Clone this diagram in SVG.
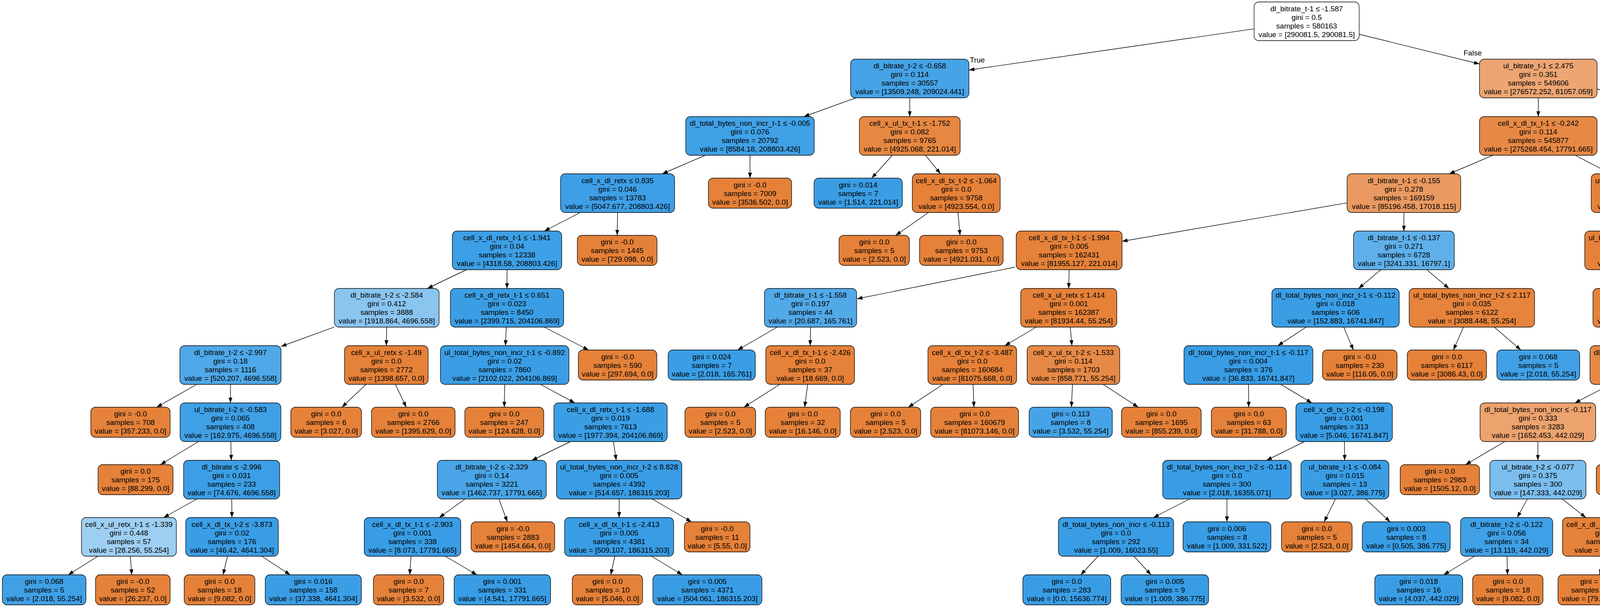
<svg xmlns="http://www.w3.org/2000/svg" width="6532" height="1554" viewBox="0 0 6532 1554">
<defs>
<style>
rect.nd{stroke:#000;stroke-width:1.3}
.o{fill:#e58139}
.b{fill:#399de5}
text{font-family:"Liberation Sans",Arial,Helvetica,sans-serif;font-size:19px;text-anchor:middle;fill:#000}
.e{stroke:#000;stroke-width:1.4;fill:none;marker-end:url(#ah)}
</style>
<marker id="ah" markerUnits="userSpaceOnUse" markerWidth="14" markerHeight="10" refX="14" refY="5" orient="auto" viewBox="0 0 14 10"><path d="M0,0 L14,5 L0,10 z" fill="#000"/></marker>
</defs>
<rect x="0" y="0" width="6532" height="1554" fill="#fff"/>
<g id="connectors">
<path class="e" d="M3210.5,73.9 L2480.5,179.2"/>
<path class="e" d="M3479.5,87.7 L3787.5,163.8"/>
<text x="2502" y="160">True</text>
<text x="3770" y="142">False</text>
<path class="e" d="M2191,250.5 L2058,298.5"/>
<path class="e" d="M2329,250.5 L2329,298.5"/>
<path class="e" d="M3938,250.5 L3938,298.5"/>
<path class="e" d="M4088.5,228.3 L4606,322.6"/>
<path class="e" d="M1805.6,397.5 L1695.4,445"/>
<path class="e" d="M1920,397.5 L1920,456"/>
<path class="e" d="M2284.4,397.5 L2231.7,456"/>
<path class="e" d="M2369.2,397.5 L2407.8,445"/>
<path class="e" d="M3821.9,397.5 L3710.1,445"/>
<path class="e" d="M4032.5,397.5 L4123.5,445"/>
<path class="e" d="M4746,397.5 L4747,456"/>
<path class="e" d="M4886,392.3 L5053.4,445"/>
<path class="e" d="M1485.5,544 L1393.5,591.5"/>
<path class="e" d="M1581,544 L1580,602.5"/>
<path class="e" d="M2377.1,544 L2293.1,602.5"/>
<path class="e" d="M2452.4,544 L2457.6,602.5"/>
<path class="e" d="M3448.5,519.4 L2872.5,617.8"/>
<path class="e" d="M3594,544 L3594,591.5"/>
<path class="e" d="M4218,544 L4218,591.5"/>
<path class="e" d="M4319.3,544 L4439.3,602.5"/>
<path class="e" d="M5210,544 L5210,602.5"/>
<path class="e" d="M5324.8,544 L5435.3,591.5"/>
<path class="e" d="M1194,690.5 L1094,738.5"/>
<path class="e" d="M1298,690.5 L1298,738.5"/>
<path class="e" d="M2598,684 L2194,765"/>
<path class="e" d="M2737,690.5 L2736,738.5"/>
<path class="e" d="M3534.9,690.5 L3478.1,738.5"/>
<path class="e" d="M3652.7,690.5 L3709.3,738.5"/>
<path class="e" d="M4218,690.5 L4218,738.5"/>
<path class="e" d="M4312.2,690.5 L4423.8,749.5"/>
<path class="e" d="M5550,690.5 L5550,738.5"/>
<path class="e" d="M5634.7,690.5 L5735.1,749.5"/>
<path class="e" d="M856,837.1 L719.5,887"/>
<path class="e" d="M990,837.5 L989,885"/>
<path class="e" d="M1296,837.5 L1294,885"/>
<path class="e" d="M1393.5,837.5 L1506.7,896"/>
<path class="e" d="M1989.6,837.5 L1888.4,896"/>
<path class="e" d="M2075,837.5 L2074,885"/>
<path class="e" d="M2652.6,837.5 L2572.4,885"/>
<path class="e" d="M2740,837.5 L2744,885"/>
<path class="e" d="M3343.7,837.5 L3271.3,885"/>
<path class="e" d="M3439.9,837.5 L3464.7,896"/>
<path class="e" d="M3746.4,837.5 L3720.8,896"/>
<path class="e" d="M3825.4,837.5 L3893.4,896"/>
<path class="e" d="M4218,837.5 L4218,885"/>
<path class="e" d="M4324,837.5 L4426,885"/>
<path class="e" d="M5550,837.5 L5550,885"/>
<path class="e" d="M5684.3,837.5 L5819.5,887.1"/>
<path class="e" d="M503.6,984 L401.2,1042.5"/>
<path class="e" d="M590,984 L590,1031.5"/>
<path class="e" d="M937,984 L875.4,1042.5"/>
<path class="e" d="M1012.3,984 L1039.9,1042.5"/>
<path class="e" d="M1292,984 L1291,1042.5"/>
<path class="e" d="M1383.5,984 L1471.5,1031.5"/>
<path class="e" d="M1996.4,984 L1904.4,1042.5"/>
<path class="e" d="M2067.6,984 L2060,1042.5"/>
<path class="e" d="M2414.1,984 L2325.3,1042.5"/>
<path class="e" d="M2491,984 L2493.4,1042.5"/>
<path class="e" d="M2745.6,984 L2742.8,1042.5"/>
<path class="e" d="M2823.9,984 L2913.9,1042.5"/>
<path class="e" d="M3196.3,984 L3196.7,1042.5"/>
<path class="e" d="M3278.7,984 L3358.3,1031.5"/>
<path class="e" d="M4123.2,984 L4031.8,1031.5"/>
<path class="e" d="M4218.3,984 L4218.7,1031.5"/>
<path class="e" d="M4521.2,984 L4508.4,1042.5"/>
<path class="e" d="M4613,984 L4691,1031.5"/>
<path class="e" d="M5509.2,984 L5469.8,1031.5"/>
<path class="e" d="M5600.6,984 L5649.4,1031.5"/>
<path class="e" d="M5948.7,984 L5949.5,1042.5"/>
<path class="e" d="M6033.7,984 L6116.3,1031.5"/>
<path class="e" d="M508,1130.5 L410.8,1189.5"/>
<path class="e" d="M591,1130.5 L592,1178.5"/>
<path class="e" d="M1460.4,1130.5 L1361.6,1178.5"/>
<path class="e" d="M1570.4,1130.5 L1577.6,1178.5"/>
<path class="e" d="M3339.7,1130.5 L3242.3,1178.5"/>
<path class="e" d="M3441.7,1130.5 L3442.3,1178.5"/>
<path class="e" d="M3852.3,1130.5 L3751.9,1189.5"/>
<path class="e" d="M3937,1130.5 L3937,1178.5"/>
<path class="e" d="M4204.8,1130.5 L4188,1189.5"/>
<path class="e" d="M4279.8,1130.5 L4351.7,1189.5"/>
<path class="e" d="M4746,1130.5 L4721,1178.5"/>
<path class="e" d="M4852.3,1130.5 L4929.7,1178.5"/>
<path class="e" d="M5369.9,1130.5 L5299.9,1189.5"/>
<path class="e" d="M5442.8,1130.5 L5459.2,1189.5"/>
<path class="e" d="M5697.6,1130.5 L5694.8,1189.5"/>
<path class="e" d="M5778.6,1130.5 L5871.8,1189.5"/>
<path class="e" d="M6202,1130.5 L6202,1178.5"/>
<path class="e" d="M6282.7,1130.5 L6378.3,1189.5"/>
<path class="e" d="M504.2,1277.5 L418.8,1325"/>
<path class="e" d="M593.3,1277.5 L593.7,1325"/>
<path class="e" d="M1190.5,1277.5 L1124.5,1325"/>
<path class="e" d="M1277.2,1277.5 L1298.8,1336"/>
<path class="e" d="M1585,1277.5 L1585,1325"/>
<path class="e" d="M1669.7,1277.5 L1770.1,1336"/>
<path class="e" d="M3045.1,1277.5 L2952.9,1325"/>
<path class="e" d="M3141,1277.5 L3141,1336"/>
<path class="e" d="M3418.7,1277.5 L3389.9,1336"/>
<path class="e" d="M3496,1277.5 L3558.8,1336"/>
<path class="e" d="M3910,1277.5 L3884,1325"/>
<path class="e" d="M3999.4,1277.5 L4059.6,1325"/>
<path class="e" d="M4637,1277.5 L4581,1325"/>
<path class="e" d="M4715.6,1277.5 L4740,1336"/>
<path class="e" d="M5008.7,1277.5 L5007.3,1325"/>
<path class="e" d="M5093.7,1277.5 L5192.9,1336"/>
<path class="e" d="M6161.8,1277.5 L6123.2,1325"/>
<path class="e" d="M6240.8,1277.5 L6286.8,1336"/>
<path class="e" d="M250.7,1424 L174.7,1471.5"/>
<path class="e" d="M333.7,1424 L337.2,1471.5"/>
<path class="e" d="M582.3,1424 L571.1,1471.5"/>
<path class="e" d="M670,1424 L742.9,1471.5"/>
<path class="e" d="M1052.3,1424 L1048.8,1471.5"/>
<path class="e" d="M1140,1424 L1220.7,1471.5"/>
<path class="e" d="M1574,1424 L1563.5,1471.5"/>
<path class="e" d="M1667.6,1424 L1746.8,1471.5"/>
<path class="e" d="M2811,1424 L2766.8,1471.5"/>
<path class="e" d="M2902.7,1424 L2946.5,1471.5"/>
<path class="e" d="M3774.8,1424 L3695.9,1471.5"/>
<path class="e" d="M3858.1,1424 L3859.1,1471.5"/>
<path class="e" d="M4108.1,1424 L4094.8,1471.5"/>
<path class="e" d="M4187.8,1424 L4250.9,1471.5"/>
<path class="e" d="M4522.6,1424 L4522.3,1471.5"/>
<path class="e" d="M4597.9,1424 L4669.8,1471.5"/>
<path class="e" d="M4996.9,1424 L4988.1,1471.5"/>
<path class="e" d="M5081.6,1424 L5154.2,1471.5"/>
<path class="e" d="M6035.9,1424 L5990.6,1471.5"/>
<path class="e" d="M6130.9,1424 L6176.8,1471.5"/>
</g>
<g id="n0" transform="translate(3345,54.5)"><rect class="nd" x="-134.5" y="-49.5" width="269" height="99" rx="12" style="fill:#ffffff"/><text y="-26">dl_bitrate_t-1 ≤ -1.587</text><text y="-4">gini = 0.5</text><text y="18">samples = 580163</text><text y="40">value = [290081.5, 290081.5]</text></g>
<g id="n1" transform="translate(2329,201)"><rect class="nd" x="-151.5" y="-49.5" width="303" height="99" rx="12" style="fill:#46a3e7"/><text y="-26">dl_bitrate_t-2 ≤ -0.658</text><text y="-4">gini = 0.114</text><text y="18">samples = 30557</text><text y="40">value = [13509.248, 209024.441]</text></g>
<g id="n2" transform="translate(3938,201)"><rect class="nd" x="-150.5" y="-49.5" width="301" height="99" rx="12" style="fill:#eda673"/><text y="-26">ul_bitrate_t-1 ≤ 2.475</text><text y="-4">gini = 0.351</text><text y="18">samples = 549606</text><text y="40">value = [276572.252, 81057.059]</text></g>
<g id="n3" transform="translate(1920,348)"><rect class="nd" x="-164.5" y="-49.5" width="329" height="99" rx="12" style="fill:#41a1e6"/><text y="-26">dl_total_bytes_non_incr_t-1 ≤ -0.005</text><text y="-4">gini = 0.076</text><text y="18">samples = 20792</text><text y="40">value = [8584.18, 208803.426]</text></g>
<g id="n4" transform="translate(2329,348)"><rect class="nd" x="-129" y="-49.5" width="258" height="99" rx="12" style="fill:#e68742"/><text y="-26">cell_x_ul_tx_t-1 ≤ -1.752</text><text y="-4">gini = 0.082</text><text y="18">samples = 9765</text><text y="40">value = [4925.068, 221.014]</text></g>
<g id="n5" transform="translate(3938,348)"><rect class="nd" x="-150.5" y="-49.5" width="301" height="99" rx="12" style="fill:#e78946"/><text y="-26">cell_x_dl_tx_t-1 ≤ -0.242</text><text y="-4">gini = 0.114</text><text y="18">samples = 545877</text><text y="40">value = [275268.454, 17791.665]</text></g>
<g id="n6" transform="translate(4746,348)"><rect class="nd" x="-140" y="-49.5" width="280" height="99" rx="12" style="fill:#3d9fe6"/><text y="-26">cell_x_dl_retx ≤ -0.632</text><text y="-4">gini = 0.04</text><text y="18">samples = 3729</text><text y="40">value = [1303.798, 63265.394]</text></g>
<g id="n7" transform="translate(1581,494.5)"><rect class="nd" x="-146" y="-49.5" width="292" height="99" rx="12" style="fill:#3e9fe6"/><text y="-26">cell_x_dl_retx ≤ 0.835</text><text y="-4">gini = 0.046</text><text y="18">samples = 13783</text><text y="40">value = [5047.677, 208803.426]</text></g>
<g id="n8" transform="translate(1920,494.5)"><rect class="nd o" x="-106.5" y="-38.5" width="213" height="77" rx="12"/><text y="-15">gini = -0.0</text><text y="7">samples = 7009</text><text y="29">value = [3536.502, 0.0]</text></g>
<g id="n9" transform="translate(2197,494.5)"><rect class="nd" x="-113" y="-38.5" width="226" height="77" rx="12" style="fill:#3b9ee5"/><text y="-15">gini = 0.014</text><text y="7">samples = 7</text><text y="29">value = [1.514, 221.014]</text></g>
<g id="n10" transform="translate(2448,494.5)"><rect class="nd o" x="-112.5" y="-49.5" width="225" height="99" rx="12"/><text y="-26">cell_x_dl_tx_t-2 ≤ -1.064</text><text y="-4">gini = 0.0</text><text y="18">samples = 9758</text><text y="40">value = [4923.554, 0.0]</text></g>
<g id="n11" transform="translate(3594,494.5)"><rect class="nd" x="-145.5" y="-49.5" width="291" height="99" rx="12" style="fill:#ea9a61"/><text y="-26">dl_bitrate_t-1 ≤ -0.155</text><text y="-4">gini = 0.278</text><text y="18">samples = 169159</text><text y="40">value = [85196.458, 17018.115]</text></g>
<g id="n12" transform="translate(4218,494.5)"><rect class="nd" x="-144.5" y="-49.5" width="289" height="99" rx="12" style="fill:#e5823a"/><text y="-26">ul_total_bytes_non_incr ≤ 4.279</text><text y="-4">gini = 0.008</text><text y="18">samples = 376718</text><text y="40">value = [190071.996, 773.551]</text></g>
<g id="n13" transform="translate(4747,494.5)"><rect class="nd o" x="-106" y="-38.5" width="212" height="77" rx="12"/><text y="-15">gini = -0.0</text><text y="7">samples = 2091</text><text y="29">value = [1055.047, 0.0]</text></g>
<g id="n14" transform="translate(5210,494.5)"><rect class="nd b" x="-165" y="-49.5" width="330" height="99" rx="12"/><text y="-26">ul_total_bytes_non_incr_t-2 ≤ -0.883</text><text y="-4">gini = 0.008</text><text y="18">samples = 1638</text><text y="40">value = [248.751, 63265.394]</text></g>
<g id="n15" transform="translate(1298,641)"><rect class="nd" x="-140" y="-49.5" width="280" height="99" rx="12" style="fill:#3d9fe6"/><text y="-26">cell_x_dl_retx_t-1 ≤ -1.941</text><text y="-4">gini = 0.04</text><text y="18">samples = 12338</text><text y="40">value = [4318.58, 208803.426]</text></g>
<g id="n16" transform="translate(1580,641)"><rect class="nd o" x="-102" y="-38.5" width="204" height="77" rx="12"/><text y="-15">gini = -0.0</text><text y="7">samples = 1445</text><text y="29">value = [729.098, 0.0]</text></g>
<g id="n17" transform="translate(2238,641)"><rect class="nd o" x="-90" y="-38.5" width="180" height="77" rx="12"/><text y="-15">gini = 0.0</text><text y="7">samples = 5</text><text y="29">value = [2.523, 0.0]</text></g>
<g id="n18" transform="translate(2461,641)"><rect class="nd o" x="-107" y="-38.5" width="214" height="77" rx="12"/><text y="-15">gini = 0.0</text><text y="7">samples = 9753</text><text y="29">value = [4921.031, 0.0]</text></g>
<g id="n19" transform="translate(2737,641)"><rect class="nd o" x="-135.5" y="-49.5" width="271" height="99" rx="12"/><text y="-26">cell_x_dl_tx_t-1 ≤ -1.994</text><text y="-4">gini = 0.005</text><text y="18">samples = 162431</text><text y="40">value = [81955.127, 221.014]</text></g>
<g id="n20" transform="translate(3594,641)"><rect class="nd" x="-129" y="-49.5" width="258" height="99" rx="12" style="fill:#5fb0ea"/><text y="-26">dl_bitrate_t-1 ≤ -0.137</text><text y="-4">gini = 0.271</text><text y="18">samples = 6728</text><text y="40">value = [3241.331, 16797.1]</text></g>
<g id="n21" transform="translate(4218,641)"><rect class="nd o" x="-161" y="-49.5" width="322" height="99" rx="12"/><text y="-26">ul_total_bytes_non_incr_t-2 ≤ 4.401</text><text y="-4">gini = 0.007</text><text y="18">samples = 376713</text><text y="40">value = [190070.482, 663.043]</text></g>
<g id="n22" transform="translate(4518,641)"><rect class="nd" x="-112.5" y="-38.5" width="225" height="77" rx="12" style="fill:#3c9ee5"/><text y="-15">gini = 0.027</text><text y="7">samples = 5</text><text y="29">value = [1.514, 110.507]</text></g>
<g id="n23" transform="translate(5210,641)"><rect class="nd o" x="-96" y="-38.5" width="192" height="77" rx="12"/><text y="-15">gini = 0.0</text><text y="7">samples = 132</text><text y="29">value = [66.603, 0.0]</text></g>
<g id="n24" transform="translate(5550,641)"><rect class="nd b" x="-134.5" y="-49.5" width="269" height="99" rx="12"/><text y="-26">cell_x_ul_tx_t-1 ≤ 1.751</text><text y="-4">gini = 0.006</text><text y="18">samples = 1506</text><text y="40">value = [182.148, 63265.394]</text></g>
<g id="n25" transform="translate(990,788)"><rect class="nd" x="-134" y="-49.5" width="268" height="99" rx="12" style="fill:#8ac5f0"/><text y="-26">dl_bitrate_t-2 ≤ -2.584</text><text y="-4">gini = 0.412</text><text y="18">samples = 3888</text><text y="40">value = [1918.864, 4696.558]</text></g>
<g id="n26" transform="translate(1298,788)"><rect class="nd" x="-145" y="-49.5" width="290" height="99" rx="12" style="fill:#3b9ee5"/><text y="-26">cell_x_dl_retx_t-1 ≤ 0.651</text><text y="-4">gini = 0.023</text><text y="18">samples = 8450</text><text y="40">value = [2399.715, 204106.869]</text></g>
<g id="n27" transform="translate(2075,788)"><rect class="nd" x="-118" y="-49.5" width="236" height="99" rx="12" style="fill:#52a9e8"/><text y="-26">dl_bitrate_t-1 ≤ -1.558</text><text y="-4">gini = 0.197</text><text y="18">samples = 44</text><text y="40">value = [20.687, 165.761]</text></g>
<g id="n28" transform="translate(2736,788)"><rect class="nd o" x="-123" y="-49.5" width="246" height="99" rx="12"/><text y="-26">cell_x_ul_retx ≤ 1.414</text><text y="-4">gini = 0.001</text><text y="18">samples = 162387</text><text y="40">value = [81934.44, 55.254]</text></g>
<g id="n29" transform="translate(3419,788)"><rect class="nd" x="-163" y="-49.5" width="326" height="99" rx="12" style="fill:#3b9ee5"/><text y="-26">dl_total_bytes_non_incr_t-1 ≤ -0.112</text><text y="-4">gini = 0.018</text><text y="18">samples = 606</text><text y="40">value = [152.883, 16741.847]</text></g>
<g id="n30" transform="translate(3768,788)"><rect class="nd" x="-160.5" y="-49.5" width="321" height="99" rx="12" style="fill:#e6833c"/><text y="-26">ul_total_bytes_non_incr_t-2 ≤ 2.117</text><text y="-4">gini = 0.035</text><text y="18">samples = 6122</text><text y="40">value = [3088.448, 55.254]</text></g>
<g id="n31" transform="translate(4218,788)"><rect class="nd o" x="-140" y="-49.5" width="280" height="99" rx="12"/><text y="-26">cell_x_dl_tx_t-1 ≤ -0.172</text><text y="-4">gini = 0.006</text><text y="18">samples = 376708</text><text y="40">value = [190068.968, 552.536]</text></g>
<g id="n32" transform="translate(4497,788)"><rect class="nd" x="-112.5" y="-38.5" width="225" height="77" rx="12" style="fill:#3c9ee5"/><text y="-15">gini = 0.027</text><text y="7">samples = 5</text><text y="29">value = [1.514, 110.507]</text></g>
<g id="n33" transform="translate(5550,788)"><rect class="nd b" x="-134.5" y="-49.5" width="269" height="99" rx="12"/><text y="-26">cell_x_dl_tx_t-1 ≤ 1.87</text><text y="-4">gini = 0.005</text><text y="18">samples = 1449</text><text y="40">value = [153.388, 63265.394]</text></g>
<g id="n34" transform="translate(5801,788)"><rect class="nd o" x="-91" y="-38.5" width="182" height="77" rx="12"/><text y="-15">gini = -0.0</text><text y="7">samples = 57</text><text y="29">value = [28.76, 0.0]</text></g>
<g id="n35" transform="translate(590,934.5)"><rect class="nd" x="-129.5" y="-49.5" width="259" height="99" rx="12" style="fill:#4fa8e8"/><text y="-26">dl_bitrate_t-2 ≤ -2.997</text><text y="-4">gini = 0.18</text><text y="18">samples = 1116</text><text y="40">value = [520.207, 4696.558]</text></g>
<g id="n36" transform="translate(989,934.5)"><rect class="nd o" x="-107" y="-49.5" width="214" height="99" rx="12"/><text y="-26">cell_x_ul_retx ≤ -1.49</text><text y="-4">gini = 0.0</text><text y="18">samples = 2772</text><text y="40">value = [1398.657, 0.0]</text></g>
<g id="n37" transform="translate(1292,934.5)"><rect class="nd" x="-164.5" y="-49.5" width="329" height="99" rx="12" style="fill:#3b9ee5"/><text y="-26">ul_total_bytes_non_incr_t-1 ≤ -0.892</text><text y="-4">gini = 0.02</text><text y="18">samples = 7860</text><text y="40">value = [2102.022, 204106.869]</text></g>
<g id="n38" transform="translate(1581,934.5)"><rect class="nd o" x="-100.5" y="-38.5" width="201" height="77" rx="12"/><text y="-15">gini = -0.0</text><text y="7">samples = 590</text><text y="29">value = [297.694, 0.0]</text></g>
<g id="n39" transform="translate(1822,934.5)"><rect class="nd" x="-111.5" y="-38.5" width="223" height="77" rx="12" style="fill:#3b9ee5"/><text y="-15">gini = 0.024</text><text y="7">samples = 7</text><text y="29">value = [2.018, 165.761]</text></g>
<g id="n40" transform="translate(2074,934.5)"><rect class="nd o" x="-113.5" y="-49.5" width="227" height="99" rx="12"/><text y="-26">cell_x_dl_tx_t-1 ≤ -2.426</text><text y="-4">gini = 0.0</text><text y="18">samples = 37</text><text y="40">value = [18.669, 0.0]</text></g>
<g id="n41" transform="translate(2489,934.5)"><rect class="nd o" x="-113.5" y="-49.5" width="227" height="99" rx="12"/><text y="-26">cell_x_dl_tx_t-2 ≤ -3.487</text><text y="-4">gini = 0.0</text><text y="18">samples = 160684</text><text y="40">value = [81075.668, 0.0]</text></g>
<g id="n42" transform="translate(2748,934.5)"><rect class="nd" x="-118.5" y="-49.5" width="237" height="99" rx="12" style="fill:#e78946"/><text y="-26">cell_x_ul_tx_t-2 ≤ -1.533</text><text y="-4">gini = 0.114</text><text y="18">samples = 1703</text><text y="40">value = [858.771, 55.254]</text></g>
<g id="n43" transform="translate(3196,934.5)"><rect class="nd b" x="-165" y="-49.5" width="330" height="99" rx="12"/><text y="-26">dl_total_bytes_non_incr_t-1 ≤ -0.117</text><text y="-4">gini = 0.004</text><text y="18">samples = 376</text><text y="40">value = [36.833, 16741.847]</text></g>
<g id="n44" transform="translate(3481,934.5)"><rect class="nd o" x="-95.5" y="-38.5" width="191" height="77" rx="12"/><text y="-15">gini = -0.0</text><text y="7">samples = 230</text><text y="29">value = [116.05, 0.0]</text></g>
<g id="n45" transform="translate(3704,934.5)"><rect class="nd o" x="-101.5" y="-38.5" width="203" height="77" rx="12"/><text y="-15">gini = 0.0</text><text y="7">samples = 6117</text><text y="29">value = [3086.43, 0.0]</text></g>
<g id="n46" transform="translate(3938,934.5)"><rect class="nd" x="-106" y="-38.5" width="212" height="77" rx="12" style="fill:#40a0e6"/><text y="-15">gini = 0.068</text><text y="7">samples = 5</text><text y="29">value = [2.018, 55.254]</text></g>
<g id="n47" transform="translate(4218,934.5)"><rect class="nd" x="-147.5" y="-49.5" width="295" height="99" rx="12" style="fill:#e78946"/><text y="-26">dl_total_bytes_non_incr ≤ -0.107</text><text y="-4">gini = 0.114</text><text y="18">samples = 13548</text><text y="40">value = [6831.822, 442.029]</text></g>
<g id="n48" transform="translate(4532,934.5)"><rect class="nd o" x="-140" y="-49.5" width="280" height="99" rx="12"/><text y="-26">cell_x_ul_retx_t-1 ≤ 0.553</text><text y="-4">gini = 0.001</text><text y="18">samples = 363160</text><text y="40">value = [183237.146, 110.507]</text></g>
<g id="n49" transform="translate(5550,934.5)"><rect class="nd" x="-123" y="-49.5" width="246" height="99" rx="12" style="fill:#66b3eb"/><text y="-26">ul_bitrate_t-1 ≤ 6.236</text><text y="-4">gini = 0.302</text><text y="18">samples = 259</text><text y="40">value = [125.637, 552.536]</text></g>
<g id="n50" transform="translate(5948,934.5)"><rect class="nd b" x="-128.5" y="-49.5" width="257" height="99" rx="12"/><text y="-26">cell_x_ul_tx ≤ -1.818</text><text y="-4">gini = 0.001</text><text y="18">samples = 1190</text><text y="40">value = [27.751, 62712.858]</text></g>
<g id="n51" transform="translate(334,1081)"><rect class="nd o" x="-101.5" y="-38.5" width="203" height="77" rx="12"/><text y="-15">gini = -0.0</text><text y="7">samples = 708</text><text y="29">value = [357.233, 0.0]</text></g>
<g id="n52" transform="translate(590,1081)"><rect class="nd" x="-129" y="-49.5" width="258" height="99" rx="12" style="fill:#40a0e6"/><text y="-26">ul_bitrate_t-2 ≤ -0.583</text><text y="-4">gini = 0.065</text><text y="18">samples = 408</text><text y="40">value = [162.975, 4696.558]</text></g>
<g id="n53" transform="translate(835,1081)"><rect class="nd o" x="-90.5" y="-38.5" width="181" height="77" rx="12"/><text y="-15">gini = 0.0</text><text y="7">samples = 6</text><text y="29">value = [3.027, 0.0]</text></g>
<g id="n54" transform="translate(1058,1081)"><rect class="nd o" x="-107" y="-38.5" width="214" height="77" rx="12"/><text y="-15">gini = 0.0</text><text y="7">samples = 2766</text><text y="29">value = [1395.629, 0.0]</text></g>
<g id="n55" transform="translate(1291,1081)"><rect class="nd o" x="-101" y="-38.5" width="202" height="77" rx="12"/><text y="-15">gini = 0.0</text><text y="7">samples = 247</text><text y="29">value = [124.628, 0.0]</text></g>
<g id="n56" transform="translate(1563,1081)"><rect class="nd" x="-145" y="-49.5" width="290" height="99" rx="12" style="fill:#3b9ee5"/><text y="-26">cell_x_dl_retx_t-1 ≤ -1.688</text><text y="-4">gini = 0.019</text><text y="18">samples = 7613</text><text y="40">value = [1977.394, 204106.869]</text></g>
<g id="n57" transform="translate(1844,1081)"><rect class="nd o" x="-90.5" y="-38.5" width="181" height="77" rx="12"/><text y="-15">gini = 0.0</text><text y="7">samples = 5</text><text y="29">value = [2.523, 0.0]</text></g>
<g id="n58" transform="translate(2055,1081)"><rect class="nd o" x="-96" y="-38.5" width="192" height="77" rx="12"/><text y="-15">gini = 0.0</text><text y="7">samples = 32</text><text y="29">value = [16.146, 0.0]</text></g>
<g id="n59" transform="translate(2267,1081)"><rect class="nd o" x="-90" y="-38.5" width="180" height="77" rx="12"/><text y="-15">gini = 0.0</text><text y="7">samples = 5</text><text y="29">value = [2.523, 0.0]</text></g>
<g id="n60" transform="translate(2495,1081)"><rect class="nd o" x="-112.5" y="-38.5" width="225" height="77" rx="12"/><text y="-15">gini = 0.0</text><text y="7">samples = 160679</text><text y="29">value = [81073.146, 0.0]</text></g>
<g id="n61" transform="translate(2741,1081)"><rect class="nd" x="-106.5" y="-38.5" width="213" height="77" rx="12" style="fill:#46a3e7"/><text y="-15">gini = 0.113</text><text y="7">samples = 8</text><text y="29">value = [3.532, 55.254]</text></g>
<g id="n62" transform="translate(2973,1081)"><rect class="nd o" x="-102" y="-38.5" width="204" height="77" rx="12"/><text y="-15">gini = 0.0</text><text y="7">samples = 1695</text><text y="29">value = [855.239, 0.0]</text></g>
<g id="n63" transform="translate(3197,1081)"><rect class="nd o" x="-96" y="-38.5" width="192" height="77" rx="12"/><text y="-15">gini = 0.0</text><text y="7">samples = 63</text><text y="29">value = [31.788, 0.0]</text></g>
<g id="n64" transform="translate(3441,1081)"><rect class="nd b" x="-123.5" y="-49.5" width="247" height="99" rx="12"/><text y="-26">cell_x_dl_tx_t-2 ≤ -0.198</text><text y="-4">gini = 0.001</text><text y="18">samples = 313</text><text y="40">value = [5.046, 16741.847]</text></g>
<g id="n65" transform="translate(3937,1081)"><rect class="nd" x="-148" y="-49.5" width="296" height="99" rx="12" style="fill:#eca36e"/><text y="-26">dl_total_bytes_non_incr ≤ -0.117</text><text y="-4">gini = 0.333</text><text y="18">samples = 3283</text><text y="40">value = [1652.453, 442.029]</text></g>
<g id="n66" transform="translate(4219,1081)"><rect class="nd o" x="-106.5" y="-49.5" width="213" height="99" rx="12"/><text y="-26">ul_bitrate_t-2 ≤ -1.546</text><text y="-4">gini = 0.0</text><text y="18">samples = 10265</text><text y="40">value = [5179.369, 0.0]</text></g>
<g id="n67" transform="translate(4500,1081)"><rect class="nd o" x="-118" y="-38.5" width="236" height="77" rx="12"/><text y="-15">gini = 0.0</text><text y="7">samples = 352323</text><text y="29">value = [177770.174, 0.0]</text></g>
<g id="n68" transform="translate(4772,1081)"><rect class="nd" x="-128.5" y="-49.5" width="257" height="99" rx="12" style="fill:#e6843d"/><text y="-26">cell_x_ul_retx_t-1 ≤ 0.554</text><text y="-4">gini = 0.039</text><text y="18">samples = 10837</text><text y="40">value = [5466.972, 110.507]</text></g>
<g id="n69" transform="translate(5429,1081)"><rect class="nd o" x="-122" y="-49.5" width="244" height="99" rx="12"/><text y="-26">cell_x_dl_retx_t-1 ≤ -0.166</text><text y="-4">gini = 0.0</text><text y="18">samples = 245</text><text y="40">value = [123.619, 0.0]</text></g>
<g id="n70" transform="translate(5700,1081)"><rect class="nd b" x="-122.5" y="-49.5" width="245" height="99" rx="12"/><text y="-26">cell_x_dl_retx_t-2 ≤ -0.536</text><text y="-4">gini = 0.007</text><text y="18">samples = 14</text><text y="40">value = [2.018, 552.536]</text></g>
<g id="n71" transform="translate(5950,1081)"><rect class="nd o" x="-90.5" y="-38.5" width="181" height="77" rx="12"/><text y="-15">gini = 0.0</text><text y="7">samples = 17</text><text y="29">value = [8.578, 0.0]</text></g>
<g id="n72" transform="translate(6202,1081)"><rect class="nd b" x="-128.5" y="-49.5" width="257" height="99" rx="12"/><text y="-26">cell_x_ul_tx_t-2 ≤ 1.666</text><text y="-4">gini = 0.001</text><text y="18">samples = 1173</text><text y="40">value = [19.174, 62712.858]</text></g>
<g id="n73" transform="translate(347,1228)"><rect class="nd o" x="-96" y="-38.5" width="192" height="77" rx="12"/><text y="-15">gini = 0.0</text><text y="7">samples = 175</text><text y="29">value = [88.299, 0.0]</text></g>
<g id="n74" transform="translate(593,1228)"><rect class="nd" x="-123" y="-49.5" width="246" height="99" rx="12" style="fill:#3c9fe5"/><text y="-26">dl_bitrate ≤ -2.996</text><text y="-4">gini = 0.031</text><text y="18">samples = 233</text><text y="40">value = [74.676, 4696.558]</text></g>
<g id="n75" transform="translate(1259,1228)"><rect class="nd" x="-139.5" y="-49.5" width="279" height="99" rx="12" style="fill:#49a5e7"/><text y="-26">dl_bitrate_t-2 ≤ -2.329</text><text y="-4">gini = 0.14</text><text y="18">samples = 3221</text><text y="40">value = [1462.737, 17791.665]</text></g>
<g id="n76" transform="translate(1585,1228)"><rect class="nd b" x="-160.5" y="-49.5" width="321" height="99" rx="12"/><text y="-26">ul_total_bytes_non_incr_t-2 ≤ 8.828</text><text y="-4">gini = 0.005</text><text y="18">samples = 4392</text><text y="40">value = [514.657, 186315.203]</text></g>
<g id="n77" transform="translate(3141,1228)"><rect class="nd b" x="-164.5" y="-49.5" width="329" height="99" rx="12"/><text y="-26">dl_total_bytes_non_incr_t-2 ≤ -0.114</text><text y="-4">gini = 0.0</text><text y="18">samples = 300</text><text y="40">value = [2.018, 16355.071]</text></g>
<g id="n78" transform="translate(3443,1228)"><rect class="nd" x="-112.5" y="-49.5" width="225" height="99" rx="12" style="fill:#3b9ee5"/><text y="-26">ul_bitrate_t-1 ≤ -0.084</text><text y="-4">gini = 0.015</text><text y="18">samples = 13</text><text y="40">value = [3.027, 386.775]</text></g>
<g id="n79" transform="translate(3686,1228)"><rect class="nd o" x="-101.5" y="-38.5" width="203" height="77" rx="12"/><text y="-15">gini = 0.0</text><text y="7">samples = 2983</text><text y="29">value = [1505.12, 0.0]</text></g>
<g id="n80" transform="translate(3937,1228)"><rect class="nd" x="-123" y="-49.5" width="246" height="99" rx="12" style="fill:#7bbeee"/><text y="-26">ul_bitrate_t-2 ≤ -0.077</text><text y="-4">gini = 0.375</text><text y="18">samples = 300</text><text y="40">value = [147.333, 442.029]</text></g>
<g id="n81" transform="translate(4177,1228)"><rect class="nd o" x="-90.5" y="-38.5" width="181" height="77" rx="12"/><text y="-15">gini = 0.0</text><text y="7">samples = 5</text><text y="29">value = [2.523, 0.0]</text></g>
<g id="n82" transform="translate(4399,1228)"><rect class="nd o" x="-106" y="-38.5" width="212" height="77" rx="12"/><text y="-15">gini = 0.0</text><text y="7">samples = 10260</text><text y="29">value = [5176.846, 0.0]</text></g>
<g id="n83" transform="translate(4695,1228)"><rect class="nd" x="-163.5" y="-49.5" width="327" height="99" rx="12" style="fill:#58ace9"/><text y="-26">ul_total_bytes_non_incr_t-1 ≤ -0.104</text><text y="-4">gini = 0.233</text><text y="18">samples = 18</text><text y="40">value = [8.578, 55.254]</text></g>
<g id="n84" transform="translate(5010,1228)"><rect class="nd" x="-121.5" y="-49.5" width="243" height="99" rx="12" style="fill:#e5823b"/><text y="-26">cell_x_ul_tx_t-2 ≤ -1.205</text><text y="-4">gini = 0.02</text><text y="18">samples = 10819</text><text y="40">value = [5458.394, 55.254]</text></g>
<g id="n85" transform="translate(5254,1228)"><rect class="nd o" x="-95" y="-38.5" width="190" height="77" rx="12"/><text y="-15">gini = 0.0</text><text y="7">samples = 145</text><text y="29">value = [73.162, 0.0]</text></g>
<g id="n86" transform="translate(5470,1228)"><rect class="nd o" x="-94.5" y="-38.5" width="189" height="77" rx="12"/><text y="-15">gini = 0.0</text><text y="7">samples = 100</text><text y="29">value = [50.457, 0.0]</text></g>
<g id="n87" transform="translate(5693,1228)"><rect class="nd b" x="-101.5" y="-38.5" width="203" height="77" rx="12"/><text y="-15">gini = 0.0</text><text y="7">samples = 8</text><text y="29">value = [0.0, 442.029]</text></g>
<g id="n88" transform="translate(5933,1228)"><rect class="nd" x="-111.5" y="-38.5" width="223" height="77" rx="12" style="fill:#3d9fe5"/><text y="-15">gini = 0.035</text><text y="7">samples = 6</text><text y="29">value = [2.018, 110.507]</text></g>
<g id="n89" transform="translate(6202,1228)"><rect class="nd b" x="-128.5" y="-49.5" width="257" height="99" rx="12"/><text y="-26">cell_x_ul_tx ≤ 1.656</text><text y="-4">gini = 0.0</text><text y="18">samples = 1162</text><text y="40">value = [13.623, 62712.858]</text></g>
<g id="n90" transform="translate(6441,1228)"><rect class="nd o" x="-85" y="-38.5" width="170" height="77" rx="12"/><text y="-15">gini = -0.0</text><text y="7">samples = 11</text><text y="29">value = [5.55, 0.0]</text></g>
<g id="n91" transform="translate(330,1374.5)"><rect class="nd" x="-121.5" y="-49.5" width="243" height="99" rx="12" style="fill:#9ecff2"/><text y="-26">cell_x_ul_retx_t-1 ≤ -1.339</text><text y="-4">gini = 0.448</text><text y="18">samples = 57</text><text y="40">value = [28.256, 55.254]</text></g>
<g id="n92" transform="translate(594,1374.5)"><rect class="nd" x="-118.5" y="-49.5" width="237" height="99" rx="12" style="fill:#3b9ee5"/><text y="-26">cell_x_dl_tx_t-2 ≤ -3.873</text><text y="-4">gini = 0.02</text><text y="18">samples = 176</text><text y="40">value = [46.42, 4641.304]</text></g>
<g id="n93" transform="translate(1056,1374.5)"><rect class="nd b" x="-123.5" y="-49.5" width="247" height="99" rx="12"/><text y="-26">cell_x_dl_tx_t-1 ≤ -2.903</text><text y="-4">gini = 0.001</text><text y="18">samples = 338</text><text y="40">value = [8.073, 17791.665]</text></g>
<g id="n94" transform="translate(1313,1374.5)"><rect class="nd o" x="-107" y="-38.5" width="214" height="77" rx="12"/><text y="-15">gini = -0.0</text><text y="7">samples = 2883</text><text y="29">value = [1454.664, 0.0]</text></g>
<g id="n95" transform="translate(1585,1374.5)"><rect class="nd b" x="-139.5" y="-49.5" width="279" height="99" rx="12"/><text y="-26">cell_x_dl_tx_t-1 ≤ -2.413</text><text y="-4">gini = 0.005</text><text y="18">samples = 4381</text><text y="40">value = [509.107, 186315.203]</text></g>
<g id="n96" transform="translate(1836,1374.5)"><rect class="nd o" x="-84" y="-38.5" width="168" height="77" rx="12"/><text y="-15">gini = -0.0</text><text y="7">samples = 11</text><text y="29">value = [5.55, 0.0]</text></g>
<g id="n97" transform="translate(2857,1374.5)"><rect class="nd b" x="-147.5" y="-49.5" width="295" height="99" rx="12"/><text y="-26">dl_total_bytes_non_incr ≤ -0.113</text><text y="-4">gini = 0.0</text><text y="18">samples = 292</text><text y="40">value = [1.009, 16023.55]</text></g>
<g id="n98" transform="translate(3141,1374.5)"><rect class="nd b" x="-112.5" y="-38.5" width="225" height="77" rx="12"/><text y="-15">gini = 0.006</text><text y="7">samples = 8</text><text y="29">value = [1.009, 331.522]</text></g>
<g id="n99" transform="translate(3371,1374.5)"><rect class="nd o" x="-90.5" y="-38.5" width="181" height="77" rx="12"/><text y="-15">gini = 0.0</text><text y="7">samples = 5</text><text y="29">value = [2.523, 0.0]</text></g>
<g id="n100" transform="translate(3600,1374.5)"><rect class="nd b" x="-112.5" y="-38.5" width="225" height="77" rx="12"/><text y="-15">gini = 0.003</text><text y="7">samples = 8</text><text y="29">value = [0.505, 386.775]</text></g>
<g id="n101" transform="translate(3857,1374.5)"><rect class="nd" x="-118" y="-49.5" width="236" height="99" rx="12" style="fill:#3fa0e6"/><text y="-26">dl_bitrate_t-2 ≤ -0.122</text><text y="-4">gini = 0.056</text><text y="18">samples = 34</text><text y="40">value = [13.119, 442.029]</text></g>
<g id="n102" transform="translate(4122,1374.5)"><rect class="nd o" x="-122" y="-49.5" width="244" height="99" rx="12"/><text y="-26">cell_x_dl_retx_t-2 ≤ -0.883</text><text y="-4">gini = 0.0</text><text y="18">samples = 266</text><text y="40">value = [134.215, 0.0]</text></g>
<g id="n103" transform="translate(4523,1374.5)"><rect class="nd o" x="-101.5" y="-49.5" width="203" height="99" rx="12"/><text y="-26">cell_x_ul_retx ≤ 0.017</text><text y="-4">gini = 0.0</text><text y="18">samples = 13</text><text y="40">value = [6.559, 0.0]</text></g>
<g id="n104" transform="translate(4756,1374.5)"><rect class="nd" x="-106" y="-38.5" width="212" height="77" rx="12" style="fill:#40a0e6"/><text y="-15">gini = 0.068</text><text y="7">samples = 5</text><text y="29">value = [2.018, 55.254]</text></g>
<g id="n105" transform="translate(5006,1374.5)"><rect class="nd" x="-118.5" y="-49.5" width="237" height="99" rx="12" style="fill:#eda876"/><text y="-26">cell_x_dl_tx_t-2 ≤ -0.009</text><text y="-4">gini = 0.361</text><text y="18">samples = 355</text><text y="40">value = [178.616, 55.254]</text></g>
<g id="n106" transform="translate(5258,1374.5)"><rect class="nd o" x="-107.5" y="-38.5" width="215" height="77" rx="12"/><text y="-15">gini = 0.0</text><text y="7">samples = 10464</text><text y="29">value = [5279.778, 0.0]</text></g>
<g id="n107" transform="translate(6083,1374.5)"><rect class="nd b" x="-116" y="-49.5" width="232" height="99" rx="12"/><text y="-26">cell_x_ul_tx_t-1 ≤ -0.314</text><text y="-4">gini = 0.0</text><text y="18">samples = 1157</text><text y="40">value = [11.1, 62712.858]</text></g>
<g id="n108" transform="translate(6317,1374.5)"><rect class="nd o" x="-89.5" y="-38.5" width="179" height="77" rx="12"/><text y="-15">gini = -0.0</text><text y="7">samples = 5</text><text y="29">value = [2.523, 0.0]</text></g>
<g id="n109" transform="translate(113,1510)"><rect class="nd" x="-107" y="-38.5" width="214" height="77" rx="12" style="fill:#40a0e6"/><text y="-15">gini = 0.068</text><text y="7">samples = 5</text><text y="29">value = [2.018, 55.254]</text></g>
<g id="n110" transform="translate(340,1510)"><rect class="nd o" x="-95.5" y="-38.5" width="191" height="77" rx="12"/><text y="-15">gini = -0.0</text><text y="7">samples = 52</text><text y="29">value = [26.237, 0.0]</text></g>
<g id="n111" transform="translate(562,1510)"><rect class="nd o" x="-90.5" y="-38.5" width="181" height="77" rx="12"/><text y="-15">gini = 0.0</text><text y="7">samples = 18</text><text y="29">value = [9.082, 0.0]</text></g>
<g id="n112" transform="translate(802,1510)"><rect class="nd" x="-123" y="-38.5" width="246" height="77" rx="12" style="fill:#3b9ee5"/><text y="-15">gini = 0.016</text><text y="7">samples = 158</text><text y="29">value = [37.338, 4641.304]</text></g>
<g id="n113" transform="translate(1046,1510)"><rect class="nd o" x="-90" y="-38.5" width="180" height="77" rx="12"/><text y="-15">gini = 0.0</text><text y="7">samples = 7</text><text y="29">value = [3.532, 0.0]</text></g>
<g id="n114" transform="translate(1286,1510)"><rect class="nd b" x="-123.5" y="-38.5" width="247" height="77" rx="12"/><text y="-15">gini = 0.001</text><text y="7">samples = 331</text><text y="29">value = [4.541, 17791.665]</text></g>
<g id="n115" transform="translate(1555,1510)"><rect class="nd o" x="-90" y="-38.5" width="180" height="77" rx="12"/><text y="-15">gini = 0.0</text><text y="7">samples = 10</text><text y="29">value = [5.046, 0.0]</text></g>
<g id="n116" transform="translate(1811,1510)"><rect class="nd b" x="-139.5" y="-38.5" width="279" height="77" rx="12"/><text y="-15">gini = 0.005</text><text y="7">samples = 4371</text><text y="29">value = [504.061, 186315.203]</text></g>
<g id="n117" transform="translate(2731,1510)"><rect class="nd b" x="-112.5" y="-38.5" width="225" height="77" rx="12"/><text y="-15">gini = 0.0</text><text y="7">samples = 283</text><text y="29">value = [0.0, 15636.774]</text></g>
<g id="n118" transform="translate(2982,1510)"><rect class="nd b" x="-112" y="-38.5" width="224" height="77" rx="12"/><text y="-15">gini = 0.005</text><text y="7">samples = 9</text><text y="29">value = [1.009, 386.775]</text></g>
<g id="n119" transform="translate(3632,1510)"><rect class="nd" x="-112.5" y="-38.5" width="225" height="77" rx="12" style="fill:#3b9ee5"/><text y="-15">gini = 0.018</text><text y="7">samples = 16</text><text y="29">value = [4.037, 442.029]</text></g>
<g id="n120" transform="translate(3860,1510)"><rect class="nd o" x="-90" y="-38.5" width="180" height="77" rx="12"/><text y="-15">gini = 0.0</text><text y="7">samples = 18</text><text y="29">value = [9.082, 0.0]</text></g>
<g id="n121" transform="translate(4084,1510)"><rect class="nd o" x="-95.5" y="-38.5" width="191" height="77" rx="12"/><text y="-15">gini = 0.0</text><text y="7">samples = 157</text><text y="29">value = [79.217, 0.0]</text></g>
<g id="n122" transform="translate(4302,1510)"><rect class="nd o" x="-95.5" y="-38.5" width="191" height="77" rx="12"/><text y="-15">gini = 0.0</text><text y="7">samples = 109</text><text y="29">value = [54.998, 0.0]</text></g>
<g id="n123" transform="translate(4522,1510)"><rect class="nd o" x="-90.5" y="-38.5" width="181" height="77" rx="12"/><text y="-15">gini = 0.0</text><text y="7">samples = 6</text><text y="29">value = [3.027, 0.0]</text></g>
<g id="n124" transform="translate(4728,1510)"><rect class="nd o" x="-90" y="-38.5" width="180" height="77" rx="12"/><text y="-15">gini = 0.0</text><text y="7">samples = 7</text><text y="29">value = [3.532, 0.0]</text></g>
<g id="n125" transform="translate(4981,1510)"><rect class="nd" x="-105.5" y="-38.5" width="211" height="77" rx="12" style="fill:#40a0e6"/><text y="-15">gini = 0.068</text><text y="7">samples = 5</text><text y="29">value = [2.018, 55.254]</text></g>
<g id="n126" transform="translate(5213,1510)"><rect class="nd o" x="-101" y="-38.5" width="202" height="77" rx="12"/><text y="-15">gini = 0.0</text><text y="7">samples = 350</text><text y="29">value = [176.598, 0.0]</text></g>
<g id="n127" transform="translate(5954,1510)"><rect class="nd" x="-112.5" y="-38.5" width="225" height="77" rx="12" style="fill:#3b9ee5"/><text y="-15">gini = 0.022</text><text y="7">samples = 9</text><text y="29">value = [2.523, 221.014]</text></g>
<g id="n128" transform="translate(6214,1510)"><rect class="nd b" x="-123" y="-38.5" width="246" height="77" rx="12"/><text y="-15">gini = 0.0</text><text y="7">samples = 1148</text><text y="29">value = [8.578, 62491.843]</text></g>
</svg>
